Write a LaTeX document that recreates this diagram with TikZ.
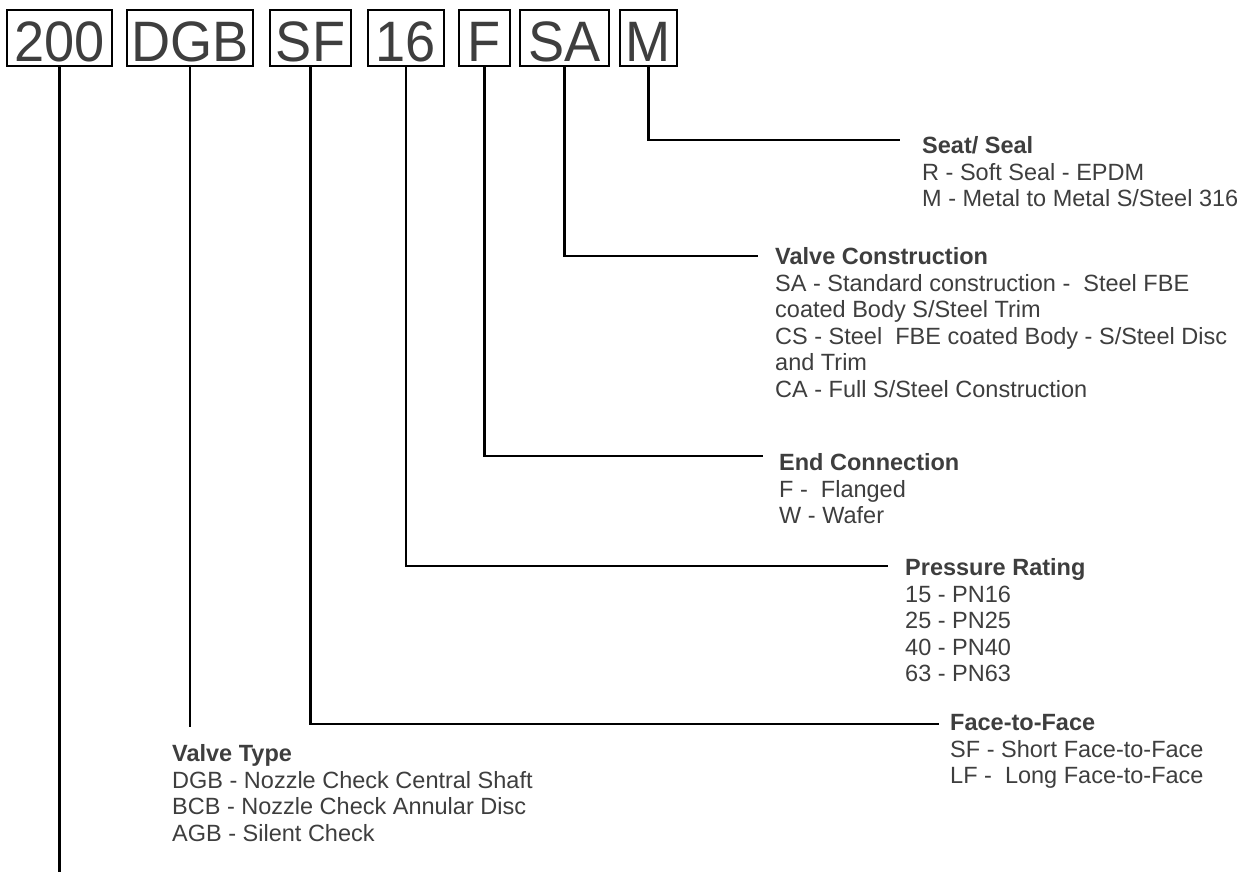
\documentclass[tikz,border=0pt]{standalone}
\usepackage{graphicx}
\usepackage{fontspec}
\setmainfont{Liberation Sans}
\definecolor{txt}{RGB}{62,62,62}
\begin{document}
\begin{tikzpicture}[x=1pt,y=-1pt,
  codebox/.style={draw=black,line width=2.2pt,inner sep=0pt,text height=52pt,text depth=4pt,
    minimum height=56pt,text=txt,font=\fontsize{57}{57}\selectfont},
  conn/.style={draw=black,line width=2.6pt},
  desc/.style={anchor=north west,align=left,inner sep=0pt,text=txt,
    font=\fontsize{23.5}{26.5}\selectfont}]
\fill[white] (0,0) rectangle (1254,872);
\useasboundingbox (0,0) rectangle (1254,872);

% code boxes
\node[codebox,minimum width=105pt] (b200) at (59.5,38) {\scalebox{0.95}[1]{200}};
\node[codebox,minimum width=126pt] (bDGB) at (190,38) {\scalebox{0.95}[1]{DGB}};
\node[codebox,minimum width=81pt] (bSF) at (310.5,38) {\scalebox{0.95}[1]{SF}};
\node[codebox,minimum width=76pt] (b16) at (406,38) {\scalebox{0.95}[1]{16}};
\node[codebox,minimum width=51pt] (bF) at (484.5,38) {\scalebox{0.95}[1]{F}};
\node[codebox,minimum width=89pt] (bSA) at (564.5,38) {\scalebox{0.95}[1]{SA}};
\node[codebox,minimum width=57pt] (bM) at (648.5,38) {\scalebox{0.95}[1]{M}};

% connector ends
\coordinate (eM) at (900,140);
\coordinate (eSA) at (758,256);
\coordinate (eF) at (763,456);
\coordinate (e16) at (888,566);
\coordinate (eSF) at (939,724);
\coordinate (eDGB) at (190,727);
\coordinate (e200) at (59.5,872);

\draw[conn] (bM.south) |- (eM);
\draw[conn] (bSA.south) |- (eSA);
\draw[conn] (bF.south) |- (eF);
\draw[conn] (b16.south) |- (e16);
\draw[conn] (bSF.south) |- (eSF);
\draw[conn] (bDGB.south) -- (eDGB);
\draw[conn] (b200.south) -- (e200);

% descriptions
\node[desc] (tM) at (922,136.5) {\textbf{Seat/ Seal}\\R - Soft Seal - EPDM\\M - Metal to Metal S/Steel 316};
\node[desc] (tSA) at (775,247.5) {\textbf{Valve Construction}\\SA - Standard construction -\ \ Steel FBE\\coated Body S/Steel Trim\\CS - Steel\ \ FBE coated Body - S/Steel Disc\\and Trim\\CA - Full S/Steel Construction};
\node[desc] (tF) at (779,453.5) {\textbf{End Connection}\\F -\ \ Flanged\\W - Wafer};
\node[desc] (t16) at (905,558.5) {\textbf{Pressure Rating}\\15 - PN16\\25 - PN25\\40 - PN40\\63 - PN63};
\node[desc] (tSF) at (950,714.5) {\textbf{Face-to-Face}\\SF - Short Face-to-Face\\LF -\ \ Long Face-to-Face};
\node[desc] (tDGB) at (172,744.5) {\textbf{Valve Type}\\DGB - Nozzle Check Central Shaft\\BCB - Nozzle Check Annular Disc\\AGB - Silent Check};
\end{tikzpicture}
\end{document}
